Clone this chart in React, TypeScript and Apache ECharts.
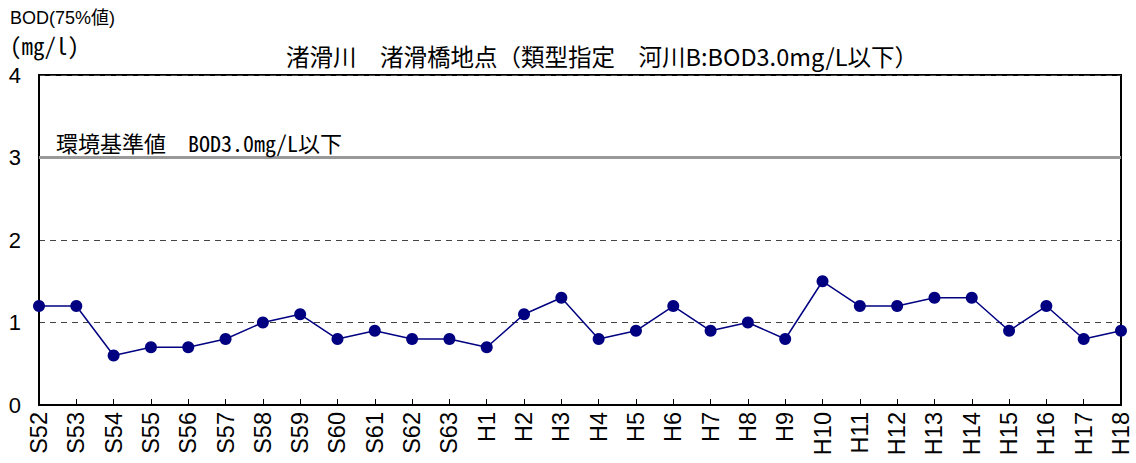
import React, { useEffect, useRef } from "react";
import * as echarts from "echarts";

const categories = [
  "S52", "S53", "S54", "S55", "S56", "S57", "S58", "S59", "S60", "S61", "S62", "S63",
  "H1", "H2", "H3", "H4", "H5", "H6", "H7", "H8", "H9", "H10", "H11", "H12", "H13",
  "H14", "H15", "H16", "H17", "H18",
];
const bodValues = [
  1.2, 1.2, 0.6, 0.7, 0.7, 0.8, 1.0, 1.1, 0.8, 0.9, 0.8, 0.8,
  0.7, 1.1, 1.3, 0.8, 0.9, 1.2, 0.9, 1.0, 0.8, 1.5, 1.2, 1.2, 1.3,
  1.3, 0.9, 1.2, 0.8, 0.9,
];
const standardValue = 3;
const standardLabel = "環境基準値　BOD3.0mg/L以下";
const titleText = "渚滑川　渚滑橋地点（類型指定　河川B:BOD3.0mg/L以下）";
const yNameTop = "BOD(75%値)";
const yNameUnit = "(mg/l)";

const JP = "'Noto Sans CJK JP', 'Noto Sans', sans-serif";
const MONO = "'Noto Sans Mono CJK JP', 'DejaVu Sans Mono', 'Noto Sans CJK JP', monospace";
const SANS = "'Liberation Sans', Arial, 'Noto Sans CJK JP', sans-serif";

export default function App() {
  const ref = useRef<HTMLDivElement>(null);
  useEffect(() => {
    if (!ref.current) return;
    const chart = echarts.init(ref.current, null, { renderer: "svg" });
    chart.setOption({
      animation: false,
      backgroundColor: "#fff",
      title: {
        text: titleText,
        left: 597,
        textAlign: "center",
        top: 39,
        textStyle: { fontFamily: JP, fontSize: 23.5, fontWeight: "normal", color: "#000" },
      },
      graphic: [
        { type: "text", left: 10, top: 9, style: { text: yNameTop, font: `18px ${SANS}`, fill: "#000" } },
        { type: "text", left: 10, top: 33, style: { text: yNameUnit, font: `23px ${MONO}`, fill: "#000" } },
      ],
      grid: {
        left: 39, right: 15, top: 75, bottom: 58,
        containLabel: false,
        outerBoundsMode: "none",
        show: true, borderColor: "#000", borderWidth: 2, backgroundColor: "transparent",
      },
      xAxis: {
        type: "category",
        data: categories,
        boundaryGap: false,
        axisLine: { lineStyle: { color: "#000", width: 2 } },
        axisTick: { show: true, inside: true, length: 6, lineStyle: { color: "#000" } },
        axisLabel: {
          rotate: 90, interval: 0, margin: 7,
          fontFamily: SANS, fontSize: 23.5, color: "#000",
        },
        splitLine: { show: false },
      },
      yAxis: {
        type: "value",
        min: 0, max: 4, interval: 1,
        axisLine: { show: true, lineStyle: { color: "#000", width: 2 } },
        axisTick: { show: false },
        axisLabel: { fontFamily: SANS, fontSize: 22, color: "#000", margin: 18 },
        splitLine: { show: true, lineStyle: { color: "#444", type: [6, 5], width: 1 } },
      },
      series: [
        {
          type: "line",
          data: bodValues,
          symbol: "circle",
          symbolSize: 12,
          itemStyle: { color: "#000080" },
          lineStyle: { color: "#000080", width: 1.5 },
          markLine: {
            silent: true,
            symbol: "none",
            data: [{ yAxis: standardValue }],
            lineStyle: { color: "#999", type: "solid", width: 3 },
            label: {
              show: true,
              position: "insideStartTop",
              formatter: standardLabel,
              fontFamily: MONO, fontSize: 22, color: "#000",
              distance: [17, 5],
            },
          },
        },
      ],
    });
    return () => chart.dispose();
  }, []);
  return <div ref={ref} style={{ width: 1136, height: 463, position: "absolute", left: 0, top: 0 }} />;
}
